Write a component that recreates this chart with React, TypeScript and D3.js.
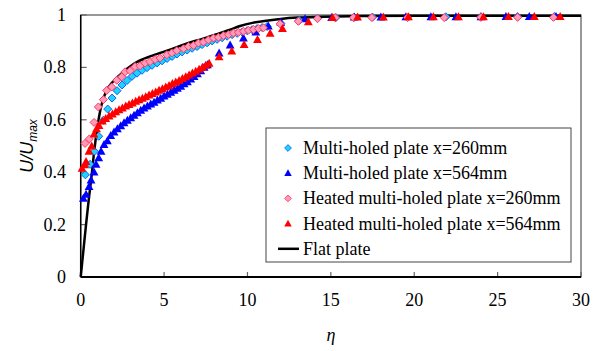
import * as d3 from "d3";

// [eta, U/Umax] pairs
const multi260: [number, number][] = [
  [0.28, 0.39], [0.56, 0.43], [0.82, 0.48], [1.08, 0.537], [1.36, 0.598], [1.62, 0.641],
  [1.88, 0.683], [2.18, 0.711], [2.48, 0.733], [2.78, 0.75], [3.08, 0.766], [3.38, 0.778],
  [3.68, 0.789], [3.98, 0.799], [4.28, 0.808], [4.58, 0.817], [4.88, 0.825], [5.18, 0.834],
  [5.48, 0.842], [5.78, 0.851], [6.08, 0.859], [6.38, 0.866], [6.68, 0.873], [6.98, 0.88],
  [7.28, 0.887], [7.58, 0.894], [7.88, 0.901], [8.18, 0.907], [8.48, 0.913], [8.78, 0.919],
  [9.08, 0.925], [9.38, 0.93], [9.68, 0.935], [9.98, 0.94], [10.28, 0.944], [10.58, 0.948],
  [10.88, 0.952], [11.18, 0.956], [12.0, 0.968], [13.1, 0.979], [14.2, 0.987], [15.3, 0.99],
  [16.4, 0.991], [17.5, 0.992], [21.9, 0.993], [24.0, 0.993], [26.2, 0.994], [28.4, 0.994],
];

const multi564: [number, number][] = [
  [0.16, 0.3], [0.32, 0.315], [0.5, 0.345], [0.62, 0.37], [0.8, 0.4], [0.92, 0.43],
  [1.08, 0.455], [1.22, 0.48], [1.4, 0.505], [1.6, 0.52], [1.8, 0.54], [2.0, 0.553],
  [2.2, 0.565], [2.4, 0.577], [2.6, 0.588], [2.8, 0.598], [3.0, 0.607], [3.2, 0.617],
  [3.4, 0.627], [3.6, 0.636], [3.8, 0.645], [4.0, 0.652], [4.2, 0.66], [4.4, 0.667],
  [4.6, 0.675], [4.8, 0.682], [5.0, 0.69], [5.2, 0.697], [5.4, 0.705], [5.6, 0.712],
  [5.8, 0.72], [6.0, 0.728], [6.2, 0.737], [6.4, 0.745], [6.6, 0.755], [6.8, 0.765],
  [7.0, 0.775], [7.2, 0.787], [7.4, 0.8], [7.6, 0.81], [8.3, 0.855], [8.96, 0.885],
  [9.76, 0.912], [10.5, 0.935], [11.25, 0.958], [12.0, 0.972], [13.45, 0.985], [15.05, 0.99],
  [16.4, 0.992], [18.0, 0.992], [19.5, 0.993], [21.0, 0.993], [22.5, 0.993], [24.0, 0.993],
  [25.5, 0.994], [26.9, 0.994], [28.5, 0.994],
];

const heated260: [number, number][] = [
  [0.26, 0.51], [0.52, 0.527], [0.8, 0.59], [1.06, 0.649], [1.36, 0.677], [1.56, 0.712],
  [1.86, 0.725], [2.16, 0.751], [2.46, 0.764], [2.66, 0.783], [2.96, 0.787], [3.26, 0.803],
  [3.56, 0.806], [3.86, 0.816], [4.16, 0.822], [4.46, 0.83], [4.76, 0.836], [5.16, 0.848],
  [5.46, 0.855], [5.76, 0.864], [6.16, 0.871], [6.46, 0.88], [6.76, 0.884], [7.06, 0.893],
  [7.36, 0.897], [7.66, 0.905], [7.96, 0.912], [8.26, 0.915], [8.56, 0.921], [8.86, 0.925],
  [9.16, 0.931], [9.46, 0.934], [9.76, 0.938], [10.06, 0.942], [10.36, 0.945], [10.66, 0.948],
  [10.96, 0.951], [11.96, 0.966], [13.05, 0.976], [14.2, 0.986], [15.26, 0.99], [16.35, 0.99],
  [17.46, 0.99], [19.6, 0.99], [21.8, 0.99], [24.0, 0.991], [26.2, 0.991], [28.35, 0.991],
];

const heated564: [number, number][] = [
  [0.08, 0.415], [0.24, 0.428], [0.32, 0.44], [0.5, 0.48], [0.66, 0.5], [0.8, 0.545],
  [0.95, 0.565], [1.1, 0.578], [1.3, 0.595], [1.5, 0.605], [1.7, 0.614], [1.9, 0.622],
  [2.1, 0.63], [2.3, 0.638], [2.5, 0.645], [2.7, 0.652], [2.9, 0.658], [3.1, 0.664],
  [3.3, 0.67], [3.5, 0.676], [3.7, 0.682], [3.9, 0.688], [4.1, 0.694], [4.3, 0.7],
  [4.5, 0.706], [4.7, 0.712], [4.9, 0.718], [5.1, 0.725], [5.3, 0.731], [5.5, 0.738],
  [5.7, 0.744], [5.9, 0.75], [6.1, 0.757], [6.3, 0.764], [6.5, 0.771], [6.7, 0.778],
  [6.9, 0.785], [7.1, 0.793], [7.3, 0.8], [7.5, 0.808], [7.7, 0.815], [8.3, 0.84],
  [9.06, 0.862], [9.8, 0.887], [10.6, 0.906], [11.36, 0.93], [12.1, 0.948], [13.65, 0.974],
  [15.1, 0.99], [16.6, 0.992], [18.15, 0.992], [19.65, 0.993], [21.15, 0.993], [22.65, 0.993],
  [24.15, 0.993], [25.65, 0.994], [27.2, 0.994], [28.75, 0.994],
];

const flatPlate: [number, number][] = [
  [0, 0], [0.16, 0.1], [0.32, 0.2], [0.48, 0.294], [0.66, 0.39], [0.82, 0.486], [1.02, 0.58],
  [1.22, 0.65], [1.5, 0.705], [2, 0.75], [2.5, 0.78], [3, 0.805], [3.36, 0.82], [4.3, 0.845],
  [5.36, 0.868], [6.3, 0.89], [7.34, 0.91], [8.3, 0.93], [8.96, 0.944], [9.56, 0.958],
  [10.3, 0.97], [11.36, 0.98], [12, 0.985], [13, 0.99], [14.5, 0.993], [17, 0.996],
  [20, 0.997], [30, 0.997],
];

const xTicks = [0, 5, 10, 15, 20, 25, 30];
const yTicks = [0, 0.2, 0.4, 0.6, 0.8, 1];

const legendLabels = [
  "Multi-holed plate x=260mm",
  "Multi-holed plate x=564mm",
  "Heated multi-holed plate x=260mm",
  "Heated multi-holed plate x=564mm",
  "Flat plate",
];

const W = 601;
const H = 351;
const serif = "'Liberation Serif', 'Times New Roman', serif";

const diamond = "M0,-4L4,0L0,4L-4,0Z";
const triangle = "M0,-4.6L4.4,3.4L-4.4,3.4Z";

type Style = { path: string; fill: string; stroke: string; sw: number };
const styles: Style[] = [
  { path: diamond, fill: "#19D5FF", stroke: "#1560F0", sw: 1 },
  { path: triangle, fill: "#0000FF", stroke: "none", sw: 0 },
  { path: diamond, fill: "#FF9AB8", stroke: "#FF3860", sw: 1 },
  { path: triangle, fill: "#FF0000", stroke: "none", sw: 0 },
];

export default function App() {
  const x = d3.scaleLinear().domain([0, 30]).range([80.7, 581]);
  const y = d3.scaleLinear().domain([0, 1]).range([277, 15]);

  const line = d3
    .line<[number, number]>()
    .x((d) => x(d[0]))
    .y((d) => y(d[1]))
    .curve(d3.curveMonotoneX);

  const series = [multi260, multi564, heated260, heated564];

  return (
    <svg
      width={W}
      height={H}
      style={{ position: "absolute", left: 0, top: 0, background: "#fff" }}
    >
      {/* plot frame */}
      <rect x={x(0)} y={y(1)} width={x(30) - x(0)} height={y(0) - y(1)} fill="none" stroke="#333" strokeWidth={1} />

      {/* ticks (inside) */}
      {xTicks.map((t) => (
        <g key={"xt" + t}>
          <line x1={x(t)} x2={x(t)} y1={y(0)} y2={y(0) - 5} stroke="#666" strokeWidth={1.2} />
          <text x={x(t)} y={y(0) + 29} textAnchor="middle" fontFamily={serif} fontSize={18}>
            {t}
          </text>
        </g>
      ))}
      {yTicks.map((t) => (
        <g key={"yt" + t}>
          <line x1={x(0)} x2={x(0) + 6} y1={y(t)} y2={y(t)} stroke="#666" strokeWidth={1.2} />
          <text x={66} y={y(t) + 6} textAnchor="end" fontFamily={serif} fontSize={18}>
            {t}
          </text>
        </g>
      ))}

      {/* axes */}
      <line x1={x(0)} x2={x(30)} y1={y(0)} y2={y(0)} stroke="#000" strokeWidth={2} />
      <line x1={x(0)} x2={x(0)} y1={y(0)} y2={y(1)} stroke="#000" strokeWidth={1.5} />

      {/* flat plate line */}
      <path d={line(flatPlate) || ""} fill="none" stroke="#000" strokeWidth={2.5} />

      {/* data markers */}
      {series.map((s, i) => (
        <g key={"s" + i}>
          {s.map((d, j) => (
            <path
              key={j}
              d={styles[i].path}
              transform={`translate(${x(d[0])},${y(d[1])})`}
              fill={styles[i].fill}
              stroke={styles[i].stroke}
              strokeWidth={styles[i].sw}
            />
          ))}
        </g>
      ))}

      {/* axis titles */}
      <text x={x(15)} y={341} textAnchor="middle" fontFamily={serif} fontStyle="italic" fontSize={18}>
        η
      </text>
      <text
        transform={`translate(33,146) rotate(-90)`}
        textAnchor="middle"
        fontFamily="'Liberation Sans', Arial, sans-serif"
        fontStyle="italic"
        fontSize={18}
      >
        U/U
        <tspan fontSize={12} dy={4}>
          max
        </tspan>
      </text>

      {/* legend */}
      <rect x={266} y={128} width={305} height={134} fill="#fff" stroke="#444" strokeWidth={1} />
      {legendLabels.map((label, i) => {
        const ly = 148 + i * 25.2;
        return (
          <g key={"lg" + i}>
            {i < 4 ? (
              <path
                d={styles[i].path}
                transform={`translate(288,${ly}) scale(0.85)`}
                fill={styles[i].fill}
                stroke={styles[i].stroke}
                strokeWidth={styles[i].sw}
              />
            ) : (
              <line x1={278} x2={299} y1={ly} y2={ly} stroke="#000" strokeWidth={2.5} />
            )}
            <text x={303} y={ly + 6} fontFamily={serif} fontSize={18}>
              {label}
            </text>
          </g>
        );
      })}
    </svg>
  );
}
